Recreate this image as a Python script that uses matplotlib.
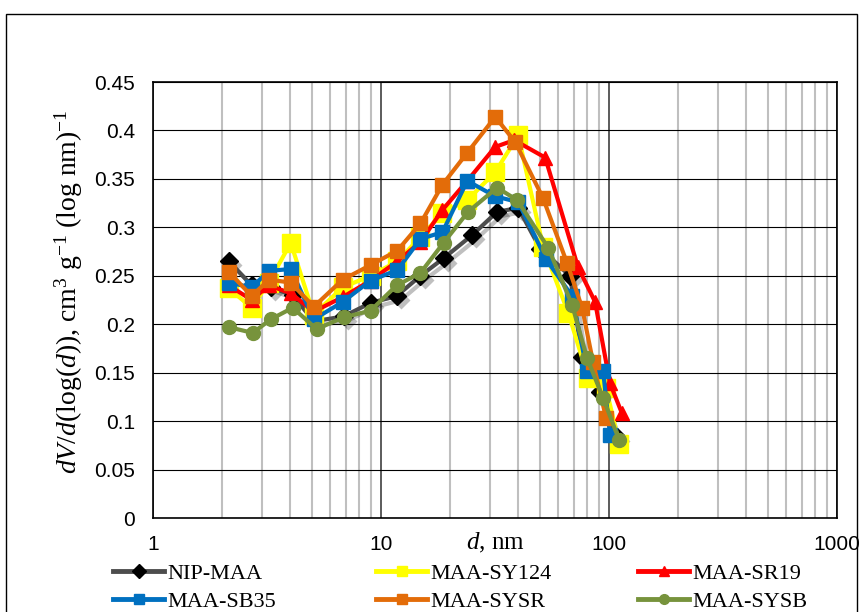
import numpy as np
import matplotlib
matplotlib.use("Agg")
import matplotlib.pyplot as plt
from matplotlib.lines import Line2D
from matplotlib.patches import Rectangle
from matplotlib.transforms import ScaledTranslation

plt.rcParams["font.family"] = "Liberation Serif"
plt.rcParams["mathtext.fontset"] = "custom"
plt.rcParams["mathtext.rm"] = "Liberation Serif"
plt.rcParams["mathtext.it"] = "Liberation Serif:italic"

# pore diameter d (nm) and dV/dlog(d) for each sample
d_nip = [2.15, 2.71, 3.28, 4.10, 5.07, 6.85, 9.00, 11.7, 14.9, 18.8, 25.1, 32.3, 40.0, 49.9, 67.5, 76.2, 91.3, 108]
v_nip = [0.265, 0.240, 0.238, 0.230, 0.203, 0.208, 0.222, 0.229, 0.250, 0.268, 0.292, 0.316, 0.320, 0.278, 0.250, 0.166, 0.130, 0.084]

d_sy124 = [2.15, 2.71, 3.22, 4.02, 5.07, 6.79, 9.00, 11.8, 14.9, 18.6, 23.9, 31.7, 40.0, 51.4, 66.2, 81.0, 97.1, 111]
v_sy124 = [0.237, 0.217, 0.243, 0.284, 0.210, 0.238, 0.250, 0.265, 0.290, 0.315, 0.328, 0.357, 0.395, 0.280, 0.212, 0.145, 0.134, 0.076]

d_sr19 = [2.15, 2.71, 3.22, 4.02, 5.07, 6.79, 9.00, 11.8, 14.9, 18.6, 23.9, 31.7, 38.4, 52.5, 73.1, 86.9, 101, 114]
v_sr19 = [0.240, 0.225, 0.240, 0.232, 0.213, 0.228, 0.245, 0.265, 0.285, 0.318, 0.348, 0.383, 0.390, 0.372, 0.259, 0.223, 0.139, 0.108]

d_sb35 = [2.15, 2.71, 3.22, 4.02, 5.07, 6.79, 9.00, 11.8, 14.9, 18.6, 23.9, 31.7, 40.0, 53.0, 68.9, 80.1, 94.2, 101]
v_sb35 = [0.243, 0.238, 0.255, 0.257, 0.205, 0.223, 0.245, 0.256, 0.288, 0.295, 0.348, 0.332, 0.326, 0.267, 0.229, 0.152, 0.152, 0.086]

d_sysr = [2.15, 2.71, 3.22, 4.02, 5.07, 6.79, 9.00, 11.8, 14.9, 18.6, 23.9, 31.7, 38.8, 51.4, 65.5, 76.2, 85.1, 97.1]
v_sysr = [0.254, 0.229, 0.246, 0.243, 0.218, 0.246, 0.261, 0.276, 0.304, 0.344, 0.377, 0.414, 0.388, 0.330, 0.263, 0.217, 0.161, 0.103]

d_sysb = [2.15, 2.74, 3.28, 4.10, 5.22, 6.85, 9.00, 11.7, 14.9, 18.8, 24.1, 32.3, 39.6, 54.1, 68.9, 80.1, 94.2, 111]
v_sysb = [0.197, 0.191, 0.205, 0.217, 0.195, 0.207, 0.214, 0.240, 0.253, 0.284, 0.316, 0.341, 0.328, 0.279, 0.220, 0.165, 0.124, 0.080]

yticks = [0, 0.05, 0.1, 0.15, 0.2, 0.25, 0.3, 0.35, 0.4, 0.45]
ytick_labels = ["0", "0.05", "0.1", "0.15", "0.2", "0.25", "0.3", "0.35", "0.4", "0.45"]
xticks = [1, 10, 100, 1000]
xtick_labels = ["1", "10", "100", "1000"]

fig = plt.figure(figsize=(8.62, 6.12), dpi=100)
fig.patches.append(Rectangle((6 / 862, -0.01), 851 / 862, (612 - 14) / 612 + 0.01,
                             transform=fig.transFigure, fill=False, ec="black", lw=1.0))
ax = fig.add_axes([153 / 862, 1 - 518 / 612, (837 - 153) / 862, (518 - 82) / 612])

series = [
    ("NIP-MAA", d_nip, v_nip, "#4D4D4D", "black", "D", 9),
    ("MAA-SY124", d_sy124, v_sy124, "#FFFF00", "#FFFF00", "s", 13),
    ("MAA-SR19", d_sr19, v_sr19, "#FF0000", "#FF0000", "^", 10),
    ("MAA-SB35", d_sb35, v_sb35, "#0070C0", "#0070C0", "s", 10.5),
    ("MAA-SYSR", d_sysr, v_sysr, "#E36C09", "#E36C09", "s", 10.5),
    ("MAA-SYSB", d_sysb, v_sysb, "#77933C", "#77933C", "o", 10),
]

# drop shadow like excel, only really visible on the black series
shift = ax.transData + ScaledTranslation(3 / 72, -3 / 72, fig.dpi_scale_trans)
ax.plot(d_nip, v_nip, color="black", alpha=0.25, lw=3, marker="D", ms=9,
        mec="none", transform=shift, zorder=2)

handles = {}
for i, (name, d, v, lc, mc, mk, ms) in enumerate(series):
    ax.plot(d, v, color=lc, lw=3, marker=mk, ms=ms, mfc=mc, mec=mc,
            zorder=3 + i, label=name)
    handles[name] = Line2D([], [], color=lc, lw=3.5, marker=mk, ms=7, mfc=mc, mec=mc)

ax.set_xscale("log")
ax.set_xlim(1, 1000)
ax.set_ylim(0, 0.45)
ax.set_xticks(xticks)
ax.set_xticklabels(xtick_labels)
ax.set_yticks(yticks)
ax.set_yticklabels(ytick_labels)
ax.xaxis.set_minor_locator(matplotlib.ticker.LogLocator(base=10, subs=np.arange(2, 10)))
ax.xaxis.set_minor_formatter(matplotlib.ticker.NullFormatter())
ax.tick_params(which="both", length=0)
ax.tick_params(axis="y", pad=13, labelsize=15)
ax.tick_params(axis="x", pad=12, labelsize=15)
for lab in ax.get_xticklabels() + ax.get_yticklabels():
    lab.set_fontfamily("Liberation Sans")

ax.grid(True, axis="y", which="major", color="black", lw=0.8)
ax.grid(True, axis="x", which="major", color="#404040", lw=1.2)
ax.grid(True, axis="x", which="minor", color="#BFBFBF", lw=1.5)
ax.set_axisbelow(True)
for s in ax.spines.values():
    s.set_linewidth(1.2)
    s.set_color("black")

ax.set_xlabel("$d$, nm", fontsize=18, va="center")
ax.xaxis.set_label_coords(0.5, -0.058)
ax.set_ylabel("$dV/d$(log($d$)), cm$^3$ g$^{-1}$ (log nm)$^{-1}$", fontsize=20, labelpad=6)
ax.yaxis.set_label_coords(-0.1, 0.52)

# excel puts legend entries on an even grid, so one legend per column
columns = [["NIP-MAA", "MAA-SB35"], ["MAA-SY124", "MAA-SYSR"], ["MAA-SR19", "MAA-SYSB"]]
col_x = [113, 376, 638]
for names, x0 in zip(columns, col_x):
    fig.legend([handles[n] for n in names], names, loc="upper left",
               bbox_to_anchor=(x0 / 862, 1 - 563 / 612), frameon=False,
               fontsize=16, handlelength=2.3, handletextpad=0.15,
               labelspacing=0.35, borderpad=0, borderaxespad=0)

fig.savefig("out.png", dpi=100)
